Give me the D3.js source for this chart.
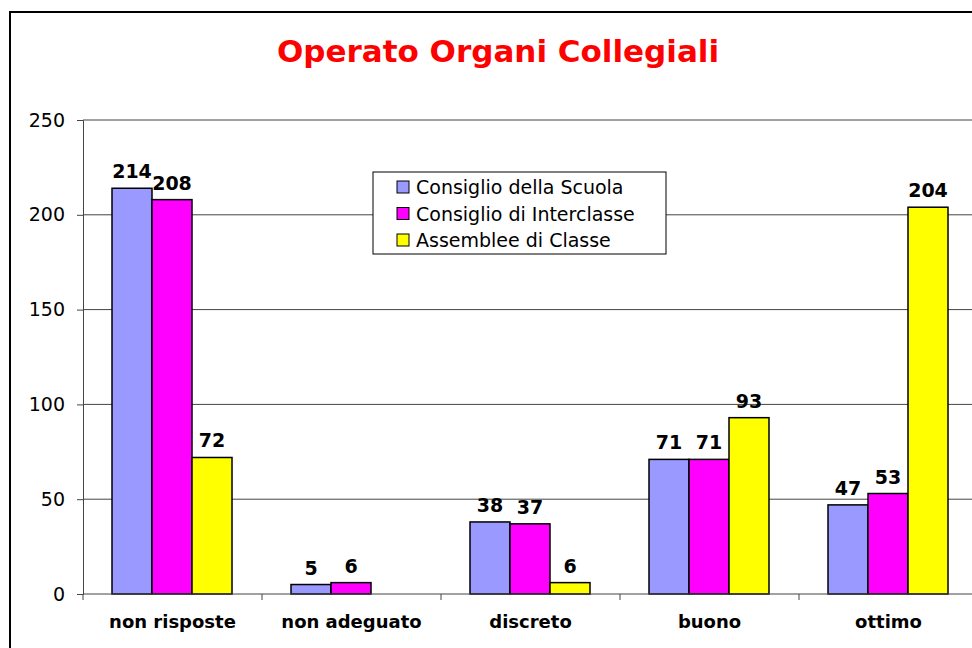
<!DOCTYPE html>
<meta charset="utf-8">
<style>
  body { margin: 0; background: #fff; }
  text { font-family: "DejaVu Sans", Verdana, sans-serif; }
</style>
<script src="https://d3js.org/d3.v7.min.js"></script>
<div id="chart"></div>
<script>
  var categories = ["non risposte", "non adeguato", "discreto", "buono", "ottimo"];
  var seriesNames = ["Consiglio della Scuola", "Consiglio di Interclasse", "Assemblee di Classe"];
  var scuola = [214, 5, 38, 71, 47];
  var interclasse = [208, 6, 37, 71, 53];
  var assemblee = [72, 0, 6, 93, 204];
  var yTicks = [0, 50, 100, 150, 200, 250];
  var colors = ["#9999ff", "#ff00ff", "#ffff00"];

  var width = 972, height = 648;
  var margin = {top: 120, right: -6, bottom: 54, left: 83};

  var svg = d3.select("#chart").append("svg")
      .attr("width", width)
      .attr("height", height);

  // outer frame
  svg.append("rect")
      .attr("x", 10).attr("y", 12)
      .attr("width", 1000).attr("height", 700)
      .attr("fill", "none").attr("stroke", "#000").attr("stroke-width", 2);

  svg.append("text")
      .attr("x", 498).attr("y", 62)
      .attr("text-anchor", "middle")
      .attr("fill", "#ff0000")
      .style("font-size", "31px").style("font-weight", "bold")
      .text("Operato Organi Collegiali");

  var x = d3.scaleBand()
      .domain(categories)
      .range([margin.left, width - margin.right])
      .paddingInner(0).paddingOuter(0);

  // bars fill the middle of each category, about 29px of gap on each side
  var xs = d3.scaleBand()
      .domain(d3.range(3))
      .range([29, x.bandwidth() - 30]);

  var y = d3.scaleLinear()
      .domain([0, 250])
      .range([height - margin.bottom, margin.top]);

  // gridlines
  svg.append("g")
    .selectAll("line")
    .data(yTicks.slice(1))
    .join("line")
      .attr("x1", margin.left).attr("x2", width)
      .attr("y1", d => y(d)).attr("y2", d => y(d))
      .attr("stroke", "#444").attr("stroke-width", 1);

  // y axis
  var yAxis = svg.append("g")
      .attr("transform", "translate(" + margin.left + ",0)")
      .call(d3.axisLeft(y).tickValues(yTicks).tickSize(6).tickPadding(12));
  yAxis.select(".domain").attr("stroke", "#444");
  yAxis.selectAll(".tick line").attr("stroke", "#444");
  yAxis.selectAll("text").style("font-size", "19px").attr("fill", "#000")
      .style("font-family", "'DejaVu Sans', Verdana, sans-serif");

  var data = categories.map((c, i) => ({cat: c, vals: [scuola[i], interclasse[i], assemblee[i]]}));

  var groups = svg.append("g").selectAll("g")
    .data(data)
    .join("g")
      .attr("transform", d => "translate(" + x(d.cat) + ",0)");

  groups.selectAll("rect")
    .data(d => d.vals.map((v, k) => ({v: v, k: k})).filter(e => e.v > 0))
    .join("rect")
      .attr("x", e => xs(e.k))
      .attr("y", e => y(e.v))
      .attr("width", xs.bandwidth())
      .attr("height", e => y(0) - y(e.v))
      .attr("fill", e => colors[e.k])
      .attr("stroke", "#000").attr("stroke-width", 1.5);

  groups.selectAll("text.val")
    .data(d => d.vals.map((v, k) => ({v: v, k: k})).filter(e => e.v > 0))
    .join("text")
      .attr("class", "val")
      .attr("x", e => xs(e.k) + xs.bandwidth() / 2)
      .attr("y", e => y(e.v) - 10)
      .attr("text-anchor", "middle")
      .style("font-size", "19px").style("font-weight", "bold")
      .text(e => e.v);

  // x axis
  var xAxis = svg.append("g")
      .attr("transform", "translate(0," + y(0) + ")");
  xAxis.append("line")
      .attr("x1", margin.left).attr("x2", width)
      .attr("stroke", "#444");
  xAxis.selectAll("line.tick")
    .data(categories)
    .join("line")
      .attr("class", "tick")
      .attr("x1", d => x(d)).attr("x2", d => x(d))
      .attr("y1", 0).attr("y2", 6)
      .attr("stroke", "#444");
  xAxis.selectAll("text")
    .data(categories)
    .join("text")
      .attr("x", d => x(d) + x.bandwidth() / 2)
      .attr("y", 34)
      .attr("text-anchor", "middle")
      .style("font-size", "18px").style("font-weight", "bold")
      .text(d => d);

  // legend
  var legend = svg.append("g").attr("transform", "translate(373,172)");
  legend.append("rect")
      .attr("width", 293).attr("height", 82)
      .attr("fill", "#fff").attr("stroke", "#000").attr("stroke-width", 1);
  var items = legend.selectAll("g")
    .data(seriesNames)
    .join("g")
      .attr("transform", (d, i) => "translate(24," + (15 + i * 26.5) + ")");
  items.append("rect")
      .attr("y", -6).attr("width", 12).attr("height", 12)
      .attr("fill", (d, i) => colors[i])
      .attr("stroke", "#000").attr("stroke-width", 1);
  items.append("text")
      .attr("x", 19).attr("y", 7)
      .style("font-size", "19px")
      .text(d => d);
</script>
